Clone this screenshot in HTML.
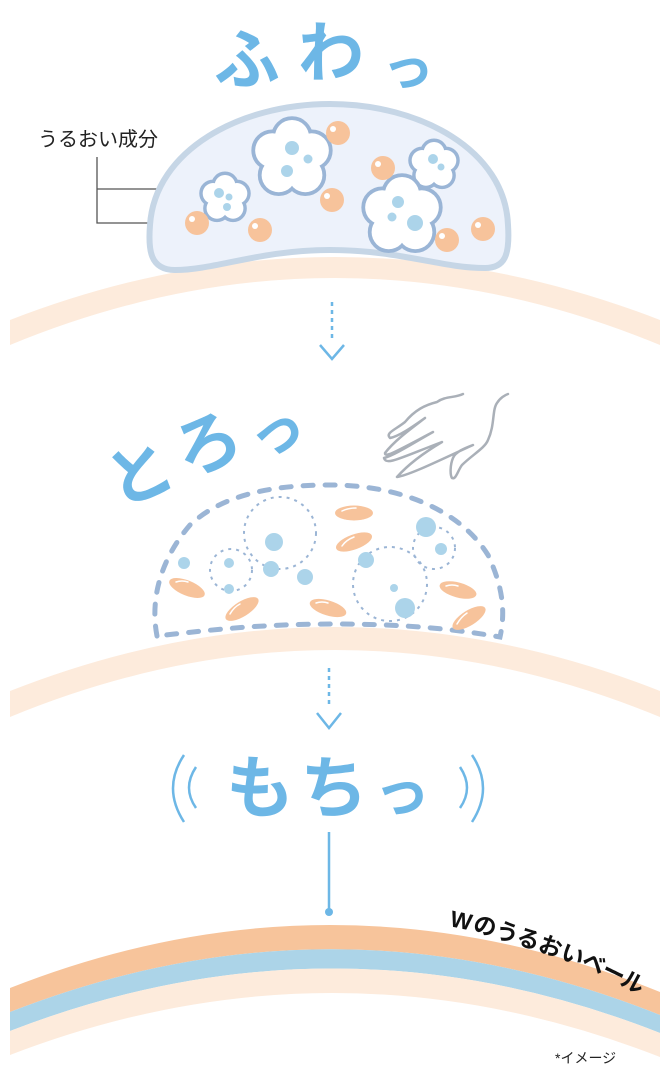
<!DOCTYPE html>
<html><head><meta charset="utf-8"><style>
html,body{margin:0;padding:0;background:#fff;}
svg{display:block;}
.t{font-family:"Liberation Sans","Noto Sans CJK JP",sans-serif;font-weight:bold;fill:#6db7e6;}
</style></head><body>
<svg width="670" height="1075" viewBox="0 0 670 1075" xmlns="http://www.w3.org/2000/svg">

<!-- title 1 -->
<text class="t" x="214" y="83" font-size="66">ふ</text>
<text class="t" x="298" y="76" font-size="66">わ</text>
<text class="t" x="382" y="86" font-size="52">っ</text>

<!-- label -->
<text x="38" y="146" font-size="20" font-family="'Liberation Sans','Noto Sans CJK JP',sans-serif" fill="#222">うるおい成分</text>
<path d="M97 157 V223 H178 M97 189 H195" stroke="#555" stroke-width="1.3" fill="none"/>

<!-- arc 1 -->
<path d="M10 320 Q335 194 660 320 L660 345 Q335 211 10 345 Z" fill="#fdebdc"/>

<!-- dome -->
<path d="M175 270 C150 270 148 250 150 225 C155 150 240 104 330 104 C420 104 505 150 508 225 C510 255 505 268 485 268 C440 268 400 250 330 250 C260 250 215 270 175 270 Z" fill="#edf2fb" stroke="#c6d6e6" stroke-width="6"/>

<!-- clouds -->
<g>
 <g transform="translate(225,198) scale(23)"><g stroke="#9ab5d6" stroke-width="0.3" fill="#9ab5d6"><circle cx="0" cy="-0.55" r="0.45"/><circle cx="0.52" cy="-0.2" r="0.45"/><circle cx="0.35" cy="0.45" r="0.45"/><circle cx="-0.35" cy="0.45" r="0.45"/><circle cx="-0.52" cy="-0.2" r="0.45"/><circle r="0.6"/></g><g fill="#fff"><circle cx="0" cy="-0.55" r="0.45"/><circle cx="0.52" cy="-0.2" r="0.45"/><circle cx="0.35" cy="0.45" r="0.45"/><circle cx="-0.35" cy="0.45" r="0.45"/><circle cx="-0.52" cy="-0.2" r="0.45"/><circle r="0.6"/></g></g>
 <g transform="translate(292,158) scale(38)"><g stroke="#9ab5d6" stroke-width="0.2" fill="#9ab5d6"><circle cx="0" cy="-0.55" r="0.45"/><circle cx="0.52" cy="-0.2" r="0.45"/><circle cx="0.35" cy="0.45" r="0.45"/><circle cx="-0.35" cy="0.45" r="0.45"/><circle cx="-0.52" cy="-0.2" r="0.45"/><circle r="0.6"/></g><g fill="#fff"><circle cx="0" cy="-0.55" r="0.45"/><circle cx="0.52" cy="-0.2" r="0.45"/><circle cx="0.35" cy="0.45" r="0.45"/><circle cx="-0.35" cy="0.45" r="0.45"/><circle cx="-0.52" cy="-0.2" r="0.45"/><circle r="0.6"/></g></g>
 <g transform="translate(434,165) scale(23)"><g stroke="#9ab5d6" stroke-width="0.3" fill="#9ab5d6"><circle cx="0" cy="-0.55" r="0.45"/><circle cx="0.52" cy="-0.2" r="0.45"/><circle cx="0.35" cy="0.45" r="0.45"/><circle cx="-0.35" cy="0.45" r="0.45"/><circle cx="-0.52" cy="-0.2" r="0.45"/><circle r="0.6"/></g><g fill="#fff"><circle cx="0" cy="-0.55" r="0.45"/><circle cx="0.52" cy="-0.2" r="0.45"/><circle cx="0.35" cy="0.45" r="0.45"/><circle cx="-0.35" cy="0.45" r="0.45"/><circle cx="-0.52" cy="-0.2" r="0.45"/><circle r="0.6"/></g></g>
 <g transform="translate(402,215) scale(38)"><g stroke="#9ab5d6" stroke-width="0.2" fill="#9ab5d6"><circle cx="0" cy="-0.55" r="0.45"/><circle cx="0.52" cy="-0.2" r="0.45"/><circle cx="0.35" cy="0.45" r="0.45"/><circle cx="-0.35" cy="0.45" r="0.45"/><circle cx="-0.52" cy="-0.2" r="0.45"/><circle r="0.6"/></g><g fill="#fff"><circle cx="0" cy="-0.55" r="0.45"/><circle cx="0.52" cy="-0.2" r="0.45"/><circle cx="0.35" cy="0.45" r="0.45"/><circle cx="-0.35" cy="0.45" r="0.45"/><circle cx="-0.52" cy="-0.2" r="0.45"/><circle r="0.6"/></g></g>
</g>
<g fill="#acd4ea">
 <circle cx="219" cy="193" r="5"/><circle cx="229" cy="197" r="3.5"/><circle cx="227" cy="207" r="4"/>
 <circle cx="292" cy="148" r="7"/><circle cx="308" cy="159" r="4.5"/><circle cx="287" cy="171" r="6"/>
 <circle cx="433" cy="159" r="5"/><circle cx="441" cy="167" r="3.5"/>
 <circle cx="398" cy="202" r="6"/><circle cx="392" cy="217" r="4.5"/><circle cx="415" cy="223" r="8"/>
</g>
<g fill="#f7c39b">
 <circle cx="338" cy="133" r="12"/><circle cx="383" cy="168" r="12"/><circle cx="332" cy="200" r="12"/>
 <circle cx="197" cy="223" r="12"/><circle cx="260" cy="230" r="12"/><circle cx="447" cy="240" r="12"/><circle cx="483" cy="229" r="12"/>
</g>
<g fill="#fff">
 <circle cx="333" cy="129" r="3"/><circle cx="378" cy="164" r="3"/><circle cx="327" cy="196" r="3"/>
 <circle cx="192" cy="219" r="3"/><circle cx="255" cy="226" r="3"/><circle cx="442" cy="236" r="3"/><circle cx="478" cy="225" r="3"/>
</g>

<!-- arrow 1 -->
<path d="M332 302 V338" stroke="#6db7e6" stroke-width="2.5" stroke-dasharray="4 4" fill="none"/>
<path d="M320 345 L332 359 L344 345" stroke="#6db7e6" stroke-width="2.5" fill="none"/>

<!-- title 2 -->
<text class="t" font-size="66" transform="translate(118,508) rotate(-22)">と</text>
<text class="t" font-size="66" transform="translate(186,478) rotate(-22)">ろ</text>
<text class="t" font-size="56" transform="translate(258,460) rotate(-22)">っ</text>

<!-- hand -->
<path d="M463 394 C455 398 445 396 437 402 C425 405 415 410 405 422 C395 430 385 433 390 438 C400 436 415 425 425 418 C412 428 395 440 385 453 C385 458 395 452 433 432 C415 442 395 455 384 458 C386 466 400 458 442 442 C420 455 405 468 397 477 C410 475 440 460 473 445 C465 448 455 452 453 458 C450 465 450 475 452 478 C456 480 458 470 462 465 C472 455 485 448 488 440 C495 425 492 410 497 403 C500 398 505 395 508 394" stroke="#aab0b8" stroke-width="2.5" fill="none" stroke-linecap="round" stroke-linejoin="round"/>

<!-- arc 2 -->
<path d="M10 691 Q335 563 660 691 L660 717 Q335 583 10 717 Z" fill="#fdebdc"/>

<!-- blob dashed -->
<path d="M157 636 C150 600 160 560 190 525 C225 492 280 485 330 485 C400 485 460 510 488 555 C502 585 506 610 500 637 C460 630 410 624 335 624 C260 624 210 630 157 636" stroke="#9bb5d5" stroke-width="5" stroke-dasharray="10 12" stroke-linecap="round" fill="none"/>
<g stroke="#9bb5d5" stroke-width="2" stroke-dasharray="3 5" fill="none">
 <circle cx="280" cy="533" r="36"/><circle cx="231" cy="570" r="21"/><circle cx="390" cy="584" r="37"/><circle cx="434" cy="548" r="21"/>
</g>
<g fill="#acd4ea">
 <circle cx="184" cy="563" r="6"/><circle cx="274" cy="542" r="9"/><circle cx="229" cy="563" r="5"/><circle cx="271" cy="569" r="8"/>
 <circle cx="229" cy="589" r="5"/><circle cx="305" cy="577" r="8"/><circle cx="366" cy="560" r="8"/><circle cx="426" cy="527" r="10"/>
 <circle cx="441" cy="549" r="6"/><circle cx="394" cy="588" r="4"/><circle cx="405" cy="608" r="10"/>
</g>
<g fill="#f7c39b">
 <ellipse cx="354" cy="513" rx="19" ry="7.5"/>
 <ellipse cx="354" cy="542" rx="19" ry="7.5" transform="rotate(-20 354 542)"/>
 <ellipse cx="187" cy="588" rx="19" ry="7.5" transform="rotate(22 187 588)"/>
 <ellipse cx="242" cy="609" rx="19" ry="7.5" transform="rotate(-32 242 609)"/>
 <ellipse cx="328" cy="608" rx="19" ry="7.5" transform="rotate(17 328 608)"/>
 <ellipse cx="458" cy="590" rx="19" ry="7.5" transform="rotate(15 458 590)"/>
 <ellipse cx="469" cy="618" rx="19" ry="7.5" transform="rotate(-32 469 618)"/>
</g>
<g stroke="#fff" stroke-width="1.5" fill="none" stroke-linecap="round">
 <path d="M342 511 Q348 508 356 508"/>
 <path d="M342 546 Q346 540 354 537"/>
 <path d="M176 582 Q182 580 188 582"/>
 <path d="M230 614 Q234 607 240 604"/>
 <path d="M316 603 Q322 601 328 603"/>
 <path d="M446 586 Q452 584 458 586"/>
 <path d="M457 624 Q461 617 467 613"/>
</g>

<!-- arrow 2 -->
<path d="M329 668 V708" stroke="#6db7e6" stroke-width="2.5" stroke-dasharray="4 4" fill="none"/>
<path d="M317 713 L329 728 L341 713" stroke="#6db7e6" stroke-width="2.5" fill="none"/>

<!-- title 3 -->
<text class="t" x="226" y="812" font-size="68">も</text>
<text class="t" x="300" y="812" font-size="68">ち</text>
<text class="t" x="374" y="812" font-size="56">っ</text>
<g stroke="#6db7e6" stroke-width="2.5" fill="none">
 <path d="M184 755 Q162 788 184 822"/><path d="M196 767 Q182 788 196 808"/>
 <path d="M472 755 Q494 788 472 822"/><path d="M460 767 Q474 788 460 808"/>
</g>

<!-- line + dot -->
<path d="M329 832 V910" stroke="#6db7e6" stroke-width="2.5"/>
<circle cx="329" cy="912" r="4" fill="#6db7e6"/>

<!-- bottom bands -->
<path d="M10 988 Q335 860 660 992 L660 1015 Q335 885 10 1012 Z" fill="#f7c49b"/>
<path d="M10 1012 Q335 885 660 1015 L660 1033 Q335 905 10 1031 Z" fill="#acd4e8"/>
<path d="M10 1031 Q335 905 660 1033 L660 1057 Q335 930 10 1055 Z" fill="#fdebdc"/>

<g font-family="'Liberation Sans','Noto Sans CJK JP',sans-serif" font-weight="bold" font-size="23" fill="#111">
 <text transform="translate(449,926) rotate(12)">W</text>
 <text transform="translate(472,931) rotate(14)">の</text>
 <text transform="translate(494,937) rotate(16)">う</text>
 <text transform="translate(515,943) rotate(18)">る</text>
 <text transform="translate(537,950) rotate(20)">お</text>
 <text transform="translate(559,958) rotate(22)">い</text>
 <text transform="translate(580,966) rotate(24)">ベ</text>
 <text transform="translate(600,975) rotate(26)">ー</text>
 <text transform="translate(619,984) rotate(28)">ル</text>
</g>
<text x="555" y="1063" font-size="14" font-family="'Liberation Sans','Noto Sans CJK JP',sans-serif" fill="#222">*イメージ</text>
</svg>
</body></html>
